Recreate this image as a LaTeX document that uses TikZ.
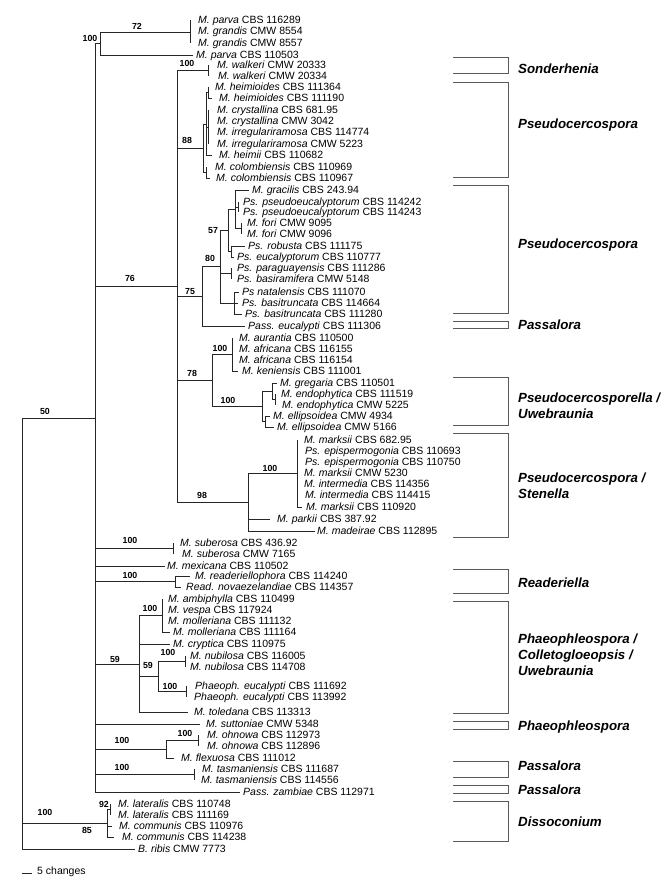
\documentclass[tikz,border=0pt]{standalone}
\usepackage{fontspec}
\setmainfont{Liberation Sans}
\begin{document}
\begin{tikzpicture}[x=1pt,y=-1pt,
 leaf/.style={anchor=west, inner sep=0pt, text height=7.5pt, text depth=0pt, font=\fontsize{10.5}{12}\selectfont},
 sup/.style={inner sep=0pt, anchor=south, font=\fontsize{8.8}{10}\selectfont\bfseries},
 clade/.style={anchor=west, inner sep=0pt, align=left, font=\fontsize{13.3}{16}\selectfont\bfseries\itshape},
 br/.style={line width=0.9pt, black!85},
 brk/.style={line width=0.7pt, black!65}]
\useasboundingbox (0,0) rectangle (672,884);
\fill[white] (0,0) rectangle (672,884);
% ---------- root ----------
\draw[br] (22,418) -- (22,849);
\draw[br] (22,418) -- (95,418);
\draw[br] (22,823) -- (107,823);
\draw[br] (22,849) -- (135,849);
% ---------- backbone ----------
\draw[br] (95,43.5) -- (95,792);
% parva / grandis
\draw[br] (95,43.5) -- (100,43.5);
\draw[br] (100,32) -- (100,55);
\draw[br] (100,32) -- (190,32);
\draw[br] (190,20) -- (190,43);
\draw[br] (100,55) -- (193,55);
% big clade 76
\draw[br] (95,286) -- (177,286);
\draw[br] (177,70.5) -- (177,502);
\draw[br] (177,70.5) -- (208,70.5);
\draw[br] (208,65) -- (208,76);
% 88
\draw[br] (177,148) -- (203,148);
\draw[br] (203,124) -- (203,172.5);
\draw[br] (203,124) -- (206,124);
\draw[br] (206,92.5) -- (206,155) -- (212,155);
\draw[br] (206,92.5) -- (208,92.5);
\draw[br] (208,87) -- (208,98) -- (212,98);
\draw[br] (206,127) -- (208,127);
\draw[br] (208,110) -- (208,144);
\draw[br] (203,172.5) -- (206,172.5);
\draw[br] (206,167) -- (206,178) -- (210,178);
% 75
\draw[br] (177,296) -- (202,296);
\draw[br] (202,266.5) -- (202,326) -- (245,326);
\draw[br] (202,266.5) -- (220,266.5);
\draw[br] (220,230) -- (220,303);
\draw[br] (220,230) -- (228,230);
\draw[br] (228,209) -- (228,251.5);
\draw[br] (228,209) -- (235,209);
\draw[br] (235,190) -- (235,228.5);
\draw[br] (235,190) -- (249,190);
\draw[br] (235,207) -- (238,207);
\draw[br] (238,202) -- (238,212);
\draw[br] (235,228.5) -- (241,228.5);
\draw[br] (241,223) -- (241,234);
\draw[br] (228,251.5) -- (231,251.5);
\draw[br] (231,246) -- (231,257) -- (234,257);
\draw[br] (231,246) -- (245,246);
\draw[br] (220,273.5) -- (231,273.5);
\draw[br] (231,268) -- (231,279);
\draw[br] (220,303) -- (234,303);
\draw[br] (234,292) -- (234,314) -- (242,314);
\draw[br] (234,292) -- (239,292);
\draw[br] (234,303) -- (238,303);
% 78
\draw[br] (177,380) -- (212,380);
\draw[br] (212,354.5) -- (212,406);
\draw[br] (212,354.5) -- (232,354.5);
\draw[br] (232,338) -- (232,371) -- (238,371);
\draw[br] (212,406) -- (262,406);
\draw[br] (262,391) -- (262,421.5);
\draw[br] (262,391) -- (272,391);
\draw[br] (272,383) -- (272,399.5);
\draw[br] (272,383) -- (277,383);
\draw[br] (272,399.5) -- (275,399.5);
\draw[br] (275,394) -- (275,405);
\draw[br] (262,421.5) -- (265,421.5);
\draw[br] (265,416) -- (265,427) -- (274,427);
\draw[br] (265,416) -- (270,416);
% 98
\draw[br] (177,502) -- (248,502);
\draw[br] (248,473.5) -- (248,531) -- (315,531);
\draw[br] (248,473.5) -- (297,473.5);
\draw[br] (297,440) -- (297,507) -- (302,507);
\draw[br] (248,519) -- (270,519);
% suberosa, mexicana, Readeriella
\draw[br] (95,548.5) -- (173,548.5);
\draw[br] (173,543) -- (173,554);
\draw[br] (95,566) -- (165,566);
\draw[br] (95,581.5) -- (175,581.5);
\draw[br] (175,576) -- (175,587) -- (181,587);
\draw[br] (175,576) -- (190,576);
% 59
\draw[br] (95,664) -- (139,664);
\draw[br] (139,615.5) -- (139,712) -- (188,712);
\draw[br] (139,615.5) -- (162,615.5);
\draw[br] (162,599) -- (162,632) -- (170,632);
\draw[br] (139,644) -- (170,644);
\draw[br] (139,676.5) -- (158,676.5);
\draw[br] (158,661.5) -- (158,691.5) -- (186,691.5);
\draw[br] (158,661.5) -- (185,661.5);
\draw[br] (185,656) -- (185,667);
\draw[br] (186,686) -- (186,697);
% suttoniae, ohnowa, tasmaniensis, zambiae
\draw[br] (95,724) -- (200,724);
\draw[br] (95,749) -- (166,749);
\draw[br] (166,740.5) -- (166,758) -- (174,758);
\draw[br] (166,740.5) -- (198,740.5);
\draw[br] (198,735) -- (198,746);
\draw[br] (95,774.5) -- (194,774.5);
\draw[br] (194,769) -- (194,780);
\draw[br] (95,792) -- (240,792);
% Dissoconium
\draw[br] (107,809.5) -- (107,837) -- (114,837);
\draw[br] (107,809.5) -- (110,809.5);
\draw[br] (110,804) -- (110,815);
\draw[br] (107,826) -- (112,826);
% scale bar
\draw[br] (22,873) -- (32,873);
\node[leaf] (scale) at (37,871) {5 changes};
% ---------- support values ----------
\node[sup] (s1) at (137,30) {72};
\node[sup] (s2) at (90,42) {100};
\node[sup] (s3) at (45,415) {50};
\node[sup] (s4) at (187,67) {100};
\node[sup] (s5) at (187,144) {88};
\node[sup] (s6) at (130,282) {76};
\node[sup] (s7) at (190,295) {75};
\node[sup] (s8) at (210,262) {80};
\node[sup] (s9) at (213,234) {57};
\node[sup] (s10) at (220,352) {100};
\node[sup] (s11) at (192,377) {78};
\node[sup] (s12) at (228,404) {100};
\node[sup] (s13) at (202,499) {98};
\node[sup] (s14) at (270,472) {100};
\node[sup] (s15) at (130,544) {100};
\node[sup] (s16) at (130,579) {100};
\node[sup] (s17) at (115,663) {59};
\node[sup] (s18) at (150,612) {100};
\node[sup] (s19) at (148,669) {59};
\node[sup] (s20) at (168,656) {100};
\node[sup] (s21) at (170,690) {100};
\node[sup] (s22) at (122,744) {100};
\node[sup] (s23) at (185,737) {100};
\node[sup] (s24) at (122,771) {100};
\node[sup] (s25) at (45,816) {100};
\node[sup,anchor=center] (s26) at (104,804) {92};
\node[sup,anchor=center] (s27) at (87,830) {85};
% ---------- leaves ----------
\node[leaf] (t1) at (198,20) {\textit{M. parva} CBS 116289};
\node[leaf] (t2) at (198,31) {\textit{M. grandis} CMW 8554};
\node[leaf] (t3) at (198,43) {\textit{M. grandis} CMW 8557};
\node[leaf] (t4) at (196,55) {\textit{M. parva} CBS 110503};
\node[leaf] (t5) at (217,65) {\textit{M. walkeri} CMW 20333};
\node[leaf] (t6) at (218,76) {\textit{M. walkeri} CMW 20334};
\node[leaf] (t7) at (215,87) {\textit{M. heimioides} CBS 111364};
\node[leaf] (t8) at (219,98) {\textit{M. heimioides} CBS 111190};
\node[leaf] (t9) at (217,110) {\textit{M. crystallina} CBS 681.95};
\node[leaf] (t10) at (217,121) {\textit{M. crystallina} CMW 3042};
\node[leaf] (t11) at (217,132) {\textit{M. irregulariramosa} CBS 114774};
\node[leaf] (t12) at (217,144) {\textit{M. irregulariramosa} CMW 5223};
\node[leaf] (t13) at (219,155) {\textit{M. heimii} CBS 110682};
\node[leaf] (t14) at (215,167) {\textit{M. colombiensis} CBS 110969};
\node[leaf] (t15) at (216,178) {\textit{M. colombiensis} CBS 110967};
\node[leaf] (t16) at (252,190) {\textit{M. gracilis} CBS 243.94};
\node[leaf] (t17) at (243,202) {\textit{Ps. pseudoeucalyptorum} CBS 114242};
\node[leaf] (t18) at (243,212) {\textit{Ps. pseudoeucalyptorum} CBS 114243};
\node[leaf] (t19) at (247,223) {\textit{M. fori} CMW 9095};
\node[leaf] (t20) at (247,234) {\textit{M. fori} CMW 9096};
\node[leaf] (t21) at (248,246) {\textit{Ps. robusta} CBS 111175};
\node[leaf] (t22) at (237,257) {\textit{Ps. eucalyptorum} CBS 110777};
\node[leaf] (t23) at (237,268) {\textit{Ps. paraguayensis} CBS 111286};
\node[leaf] (t24) at (237,279) {\textit{Ps. basiramifera} CMW 5148};
\node[leaf] (t25) at (242,292) {\textit{Ps natalensis} CBS 111070};
\node[leaf] (t26) at (242,303) {\textit{Ps. basitruncata} CBS 114664};
\node[leaf] (t27) at (245,314) {\textit{Ps. basitruncata} CBS 111280};
\node[leaf] (t28) at (248,326) {\textit{Pass. eucalypti} CBS 111306};
\node[leaf] (t29) at (239,338) {\textit{M. aurantia} CBS 110500};
\node[leaf] (t30) at (239,349) {\textit{M. africana} CBS 116155};
\node[leaf] (t31) at (239,360) {\textit{M. africana} CBS 116154};
\node[leaf] (t32) at (242,371) {\textit{M. keniensis} CBS 111001};
\node[leaf] (t33) at (280,383) {\textit{M. gregaria} CBS 110501};
\node[leaf] (t34) at (281,394) {\textit{M. endophytica} CBS 111519};
\node[leaf] (t35) at (282,405) {\textit{M. endophytica} CMW 5225};
\node[leaf] (t36) at (273,416) {\textit{M. ellipsoidea} CMW 4934};
\node[leaf] (t37) at (277,427) {\textit{M. ellipsoidea} CMW 5166};
\node[leaf] (t38) at (304,440) {\textit{M. marksii} CBS 682.95};
\node[leaf] (t39) at (305,451) {\textit{Ps. epispermogonia} CBS 110693};
\node[leaf] (t40) at (305,462) {\textit{Ps. epispermogonia} CBS 110750};
\node[leaf] (t41) at (304,473) {\textit{M. marksii} CMW 5230};
\node[leaf] (t42) at (304,484) {\textit{M. intermedia} CBS 114356};
\node[leaf] (t43) at (305,495) {\textit{M. intermedia} CBS 114415};
\node[leaf] (t44) at (306,507) {\textit{M. marksii} CBS 110920};
\node[leaf] (t45) at (277,519) {\textit{M. parkii} CBS 387.92};
\node[leaf] (t46) at (317,531) {\textit{M. madeirae} CBS 112895};
\node[leaf] (t47) at (180,543) {\textit{M. suberosa} CBS 436.92};
\node[leaf] (t48) at (182,554) {\textit{M. suberosa} CMW 7165};
\node[leaf] (t49) at (167,566) {\textit{M. mexicana} CBS 110502};
\node[leaf] (t50) at (195,576) {\textit{M. readeriellophora} CBS 114240};
\node[leaf] (t51) at (186,587) {\textit{Read. novaezelandiae} CBS 114357};
\node[leaf] (t52) at (168,599) {\textit{M. ambiphylla} CBS 110499};
\node[leaf] (t53) at (168,610) {\textit{M. vespa} CBS 117924};
\node[leaf] (t54) at (168,621) {\textit{M. molleriana} CBS 111132};
\node[leaf] (t55) at (173,632) {\textit{M. molleriana} CBS 111164};
\node[leaf] (t56) at (173,644) {\textit{M. cryptica} CBS 110975};
\node[leaf] (t57) at (190,656) {\textit{M. nubilosa} CBS 116005};
\node[leaf] (t58) at (190,667) {\textit{M. nubilosa} CBS 114708};
\node[leaf] (t59) at (195,686) {\textit{Phaeoph. eucalypti} CBS 111692};
\node[leaf] (t60) at (194,697) {\textit{Phaeoph. eucalypti} CBS 113992};
\node[leaf] (t61) at (194,712) {\textit{M. toledana} CBS 113313};
\node[leaf] (t62) at (206,724) {\textit{M. suttoniae} CMW 5348};
\node[leaf] (t63) at (207,735) {\textit{M. ohnowa} CBS 112973};
\node[leaf] (t64) at (207,746) {\textit{M. ohnowa} CBS 112896};
\node[leaf] (t65) at (181,758) {\textit{M. flexuosa} CBS 111012};
\node[leaf] (t66) at (202,769) {\textit{M. tasmaniensis} CBS 111687};
\node[leaf] (t67) at (201,780) {\textit{M. tasmaniensis} CBS 114556};
\node[leaf] (t68) at (243,792) {\textit{Pass. zambiae} CBS 112971};
\node[leaf] (t69) at (118,804) {\textit{M. lateralis} CBS 110748};
\node[leaf] (t70) at (118,815) {\textit{M. lateralis} CBS 111169};
\node[leaf] (t71) at (119,826) {\textit{M. communis} CBS 110976};
\node[leaf] (t72) at (122,837) {\textit{M. communis} CBS 114238};
\node[leaf] (t73) at (138,849) {\textit{B. ribis} CMW 7773};
% ---------- clade brackets ----------
\draw[brk] (453,57) -- (508,57) -- (508,73) -- (453,73);
\draw[brk] (453,82) -- (508,82) -- (508,177) -- (453,177);
\draw[brk] (453,185) -- (508,185) -- (508,313) -- (453,313);
\draw[brk] (453,321) -- (508,321) -- (508,328) -- (453,328);
\draw[brk] (453,377) -- (508,377) -- (508,425) -- (453,425);
\draw[brk] (453,433) -- (508,433) -- (508,537) -- (453,537);
\draw[brk] (453,569) -- (508,569) -- (508,593) -- (453,593);
\draw[brk] (453,601) -- (508,601) -- (508,713) -- (453,713);
\draw[brk] (453,721) -- (508,721) -- (508,729) -- (453,729);
\draw[brk] (453,761) -- (508,761) -- (508,777) -- (453,777);
\draw[brk] (453,785) -- (508,785) -- (508,793) -- (453,793);
\draw[brk] (453,801) -- (508,801) -- (508,841) -- (453,841);
\node[clade] (c1) at (518,69) {Sonderhenia};
\node[clade] (c2) at (518,125) {Pseudocercospora};
\node[clade] (c3) at (518,245) {Pseudocercospora};
\node[clade] (c4) at (518,325) {Passalora};
\node[clade] (c5) at (518,406) {Pseudocercosporella /\\Uwebraunia};
\node[clade] (c6) at (518,486) {Pseudocercospora /\\Stenella};
\node[clade] (c7) at (518,583) {Readeriella};
\node[clade] (c8) at (518,655) {Phaeophleospora /\\Colletogloeopsis /\\Uwebraunia};
\node[clade] (c9) at (518,727) {Phaeophleospora};
\node[clade] (c10) at (518,766) {Passalora};
\node[clade] (c11) at (518,790) {Passalora};
\node[clade] (c12) at (518,822) {Dissoconium};
\end{tikzpicture}
\end{document}
